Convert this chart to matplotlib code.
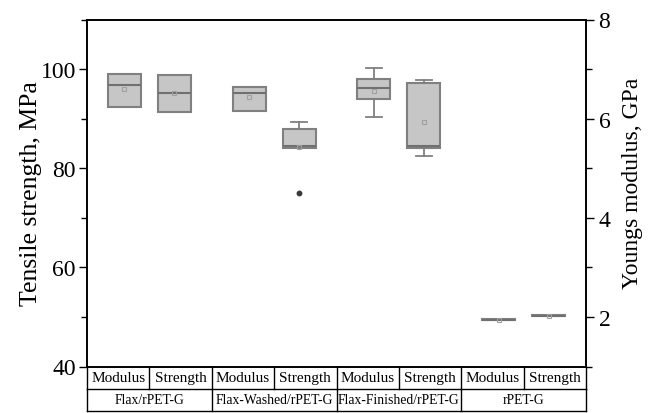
import matplotlib
matplotlib.use("Agg")
import matplotlib.pyplot as plt
from matplotlib.ticker import MultipleLocator

plt.rcParams['font.family'] = ['Liberation Serif', 'DejaVu Serif']

groups = ["Flax/rPET-G", "Flax-Washed/rPET-G", "Flax-Finished/rPET-G", "rPET-G"]
subcats = ["Modulus", "Strength"]

# Young's modulus (GPa): q1, median, q3, whisker low, whisker high, mean
mod_q1 = [6.24, 6.15, 6.40, 1.935]
mod_med = [6.68, 6.52, 6.62, 1.945]
mod_q3 = [6.90, 6.64, 6.79, 1.955]
mod_lo = [6.24, 6.15, 6.03, 1.935]
mod_hi = [6.90, 6.64, 7.02, 1.955]
mod_mean = [6.60, 6.43, 6.56, 1.945]
mod_fliers = [[], [], [], []]

# Tensile strength (MPa)
str_q1 = [91.3, 84.1, 84.1, 50.15]
str_med = [95.1, 84.5, 84.5, 50.25]
str_q3 = [98.9, 87.9, 97.1, 50.35]
str_lo = [91.3, 84.1, 82.5, 50.15]
str_hi = [98.9, 89.4, 97.8, 50.35]
str_mean = [95.1, 84.3, 89.3, 50.25]
str_fliers = [[], [75.1], [], []]

fig = plt.figure(figsize=(6.58, 4.14), dpi=100)
ax = fig.add_axes([87/658, 1 - 367.5/414, 499/658, 347/414])
ax2 = ax.twinx()

fill = "#c6c6c6"
edge = "#808080"

def stats(q1, med, q3, lo, hi, mean, fl):
    return [dict(q1=a, med=b, q3=c, whislo=d, whishi=e, mean=f, fliers=g)
            for a, b, c, d, e, f, g in zip(q1, med, q3, lo, hi, mean, fl)]

centers = [1 + 2 * i for i in range(len(groups))]
off = 0.4
w = 0.53

common = dict(widths=w, patch_artist=True, showmeans=True, manage_ticks=False,
              boxprops=dict(facecolor=fill, edgecolor=edge, linewidth=1.5),
              medianprops=dict(color="#707070", linewidth=1.5),
              whiskerprops=dict(color=edge, linewidth=1.3),
              capprops=dict(color=edge, linewidth=1.3),
              meanprops=dict(marker='s', markerfacecolor='none', markeredgecolor='#a0a0a0',
                             markersize=3.5, markeredgewidth=0.8),
              flierprops=dict(marker='o', markerfacecolor='#3a3a3a', markeredgecolor='#3a3a3a',
                              markersize=3.2))

ax2.bxp(stats(mod_q1, mod_med, mod_q3, mod_lo, mod_hi, mod_mean, mod_fliers),
        positions=[c - off for c in centers], **common)
ax.bxp(stats(str_q1, str_med, str_q3, str_lo, str_hi, str_mean, str_fliers),
       positions=[c + off for c in centers], **common)

ax.set_xlim(0, 8)
ax.set_ylim(40, 110)
ax2.set_ylim(1, 8)
ax.set_xticks([])
ax.yaxis.set_major_locator(MultipleLocator(20))
ax.yaxis.set_minor_locator(MultipleLocator(10))
ax2.yaxis.set_major_locator(MultipleLocator(2))
ax2.yaxis.set_minor_locator(MultipleLocator(1))
for a in (ax, ax2):
    a.tick_params(axis='y', which='major', length=6, width=1, labelsize=17, direction='out', pad=2)
    a.tick_params(axis='y', which='minor', length=4, width=1, direction='out')
    for s in a.spines.values():
        s.set_linewidth(1.2)
ax2.tick_params(axis='y', pad=3)

ax.set_ylabel("Tensile strength, MPa", fontsize=18.5)
ax.yaxis.set_label_coords(-0.09, 0.5)
ax2.set_ylabel("Youngs modulus, GPa", fontsize=17)
ax2.yaxis.set_label_coords(1.072, 0.53)

# category table below the axes
tr = ax.get_xaxis_transform()
rh = 22 / 347
lk = dict(color='black', linewidth=1.0, transform=tr, clip_on=False)
ax.plot([0, 8], [-rh, -rh], **lk)
ax.plot([0, 8], [-2 * rh, -2 * rh], **lk)
for x in range(0, 9):
    ax.plot([x, x], [0, -rh], **lk)
for x in range(0, 9, 2):
    ax.plot([x, x], [-rh, -2 * rh], **lk)
for i, c in enumerate(centers):
    for j, s in enumerate(subcats):
        ax.text(c - 0.5 + j, -rh / 2, s, transform=tr, ha='center', va='center', fontsize=11)
    ax.text(c, -1.5 * rh, groups[i], transform=tr, ha='center', va='center', fontsize=9.8)

fig.savefig("out.png", dpi=100)
